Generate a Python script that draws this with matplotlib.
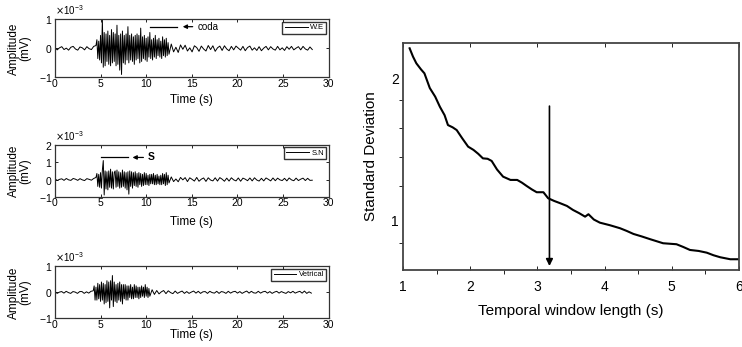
import numpy as np
import matplotlib
matplotlib.use("Agg")
import matplotlib.pyplot as plt
from matplotlib.ticker import ScalarFormatter

plt.rcParams['font.family'] = ['Liberation Sans', 'DejaVu Sans']

# seismograms, amplitudes in units of 1e-3 mV
# W.E component
we_pre = [0.03, -0.05, 0.02, 0.06, -0.04, 0.01, -0.06, 0.04, 0.07, -0.02, -0.06,
          0.05, 0.02, -0.05, 0.06, -0.01, -0.04, 0.07, 0.1]
we_burst = [0.3, -0.35, 0.25, -0.4, 0.45, -0.5, 1.0, -0.65, 0.55, -0.6,
            0.5, -0.45, 0.6, -0.55, 0.45, -0.6, 0.65, -0.5, 0.55, -0.45,
            0.5, -0.6, 0.8, -0.55, 0.45, -0.75, 0.5, -0.9, 0.6, -0.5,
            0.45, -0.55, 0.5, -0.4, 0.75, -0.5, 0.45, -0.4, 0.5, -0.45,
            0.4, -0.55, 0.45, -0.4, 0.5, -0.35, 0.45, -0.5, 0.7, -0.45,
            0.4, -0.35, 0.45, -0.4, 0.35, -0.45, 0.4, -0.3, 0.55, -0.35,
            0.3, -0.4, 0.35, -0.3, 0.45, -0.35, 0.3, -0.25, 0.35, -0.3,
            0.25, -0.35, 0.4, -0.25, 0.3, -0.3, 0.35, -0.25, 0.2, -0.2]
we_post = [0.15, -0.12, 0.04, -0.14, 0.12, -0.03, 0.11, -0.09, 0.02, -0.12, 0.09,
           0.03, -0.1, 0.08, -0.02, -0.09, 0.1, -0.04, 0.09, -0.1, 0.02, 0.08,
           -0.07, 0.09, -0.02, -0.08, 0.07, -0.05, 0.08, 0.01, -0.06, 0.07,
           -0.08, 0.03, 0.08, -0.06, 0.02, -0.07, 0.06, -0.08, 0.01, 0.07,
           -0.05, 0.06, -0.02, -0.06, 0.07, -0.05, 0.02, -0.07, 0.06, -0.03,
           0.07, -0.05, 0.01, 0.06, -0.05, 0.07, -0.02, -0.06, 0.05, -0.04]

# S.N component
sn_pre = [0.05, -0.06, 0.01, 0.04, -0.05, 0.06, -0.02, -0.05, 0.06, 0.02, -0.05,
          0.05, -0.02, -0.06, 0.05, 0.01, -0.04, 0.06, 0.12]
sn_burst = [0.35, -0.4, 0.3, -0.45, 0.4, -0.5, 0.55, 1.1, -0.9, 0.5,
            -0.55, 0.45, -0.6, 0.5, -0.45, 0.6, -0.5, 0.45, -0.55, 0.4,
            0.5, -0.45, 0.55, -0.4, 0.45, -0.5, 0.4, -0.45, 0.55, -0.4,
            0.45, -0.5, 0.4, -0.6, 0.45, -0.85, 0.5, -0.4, 0.45, -0.5,
            0.4, -0.35, 0.45, -0.4, 0.35, -0.45, 0.4, -0.3, 0.35, -0.4,
            0.3, -0.35, 0.4, -0.3, 0.35, -0.3, 0.25, -0.35, 0.3, -0.25,
            0.3, -0.25, 0.35, -0.3, 0.25, -0.3, 0.3, -0.25, 0.2, -0.3,
            0.25, -0.3, 0.35, -0.25, 0.3, -0.35, 0.4, -0.3, 0.25, -0.2]
sn_post = [0.15, -0.12, 0.03, -0.13, 0.12, -0.02, 0.11, -0.12, 0.1, 0.01, -0.09,
           0.12, -0.1, 0.02, 0.09, -0.11, 0.1, -0.03, -0.08, 0.1, -0.09, 0.11,
           0.02, -0.1, 0.08, -0.09, 0.1, -0.02, -0.08, 0.09, -0.1, 0.08, 0.02,
           -0.07, 0.09, -0.08, 0.1, -0.03, -0.09, 0.07, -0.08, 0.09, 0.01,
           -0.08, 0.09, -0.07, 0.08, -0.02, -0.06, 0.07, -0.08, 0.09, -0.02,
           -0.07, 0.08, -0.06, 0.02, 0.08, -0.06, 0.07, -0.05, -0.04]

# Vertical component
vt_pre = [0.03, -0.04, 0.01, 0.03, -0.03, 0.04, -0.01, -0.04, 0.03, 0.01,
          -0.04, 0.03, 0.03, -0.04, 0.02, -0.03, 0.04, 0.06]
vt_burst = [0.25, -0.3, 0.2, -0.3, 0.35, -0.25, 0.3, -0.35, 0.4, -0.3,
            0.35, -0.45, 0.3, -0.4, 0.45, -0.35, 0.4, -0.6, 0.45, -0.3,
            0.65, -0.55, 0.4, -0.35, 0.3, -0.4, 0.35, -0.3, 0.4, -0.35,
            0.3, -0.45, 0.3, -0.25, 0.3, -0.3, 0.25, -0.3, 0.25, -0.2,
            0.3, -0.25, 0.2, -0.25, 0.3, -0.2, 0.25, -0.2, 0.2, -0.25,
            0.2, -0.2, 0.25, -0.15, 0.2, -0.2, 0.3, -0.15, 0.2, -0.2,
            0.15, -0.15]
vt_post = [0.1, -0.08, 0.07, -0.06, 0.02, 0.07, -0.05, 0.06, -0.01, -0.05,
           0.05, -0.04, 0.01, 0.05, -0.04, 0.03, -0.04, 0.01, 0.05, -0.03,
           0.04, -0.04, 0.02, 0.03, -0.04, 0.04, -0.01, -0.03, 0.04, -0.04,
           0.03, 0.01, -0.04, 0.04, -0.03, 0.02, 0.04, -0.03, 0.03, -0.04,
           0.01, 0.05, -0.03, 0.04, -0.02, -0.03, 0.04, -0.03, 0.02, 0.04,
           -0.03, 0.03, -0.04, 0.01, 0.04, -0.03, 0.03, -0.01, -0.04, 0.03,
           -0.02, 0.04, -0.03, 0.01, 0.04, -0.03, 0.05, -0.04, 0.02, -0.03]

# standard deviation vs temporal window length
win_len = [1.10, 1.15, 1.20, 1.27, 1.32, 1.40, 1.48, 1.55, 1.62, 1.67, 1.74,
           1.80, 1.88, 1.97, 2.05, 2.12, 2.19, 2.26, 2.32, 2.40, 2.49, 2.60,
           2.70, 2.77, 2.84, 2.92, 2.99, 3.09, 3.16, 3.25, 3.34, 3.44, 3.53,
           3.62, 3.71, 3.76, 3.84, 3.93, 4.08, 4.23, 4.33, 4.43, 4.55, 4.68,
           4.87, 5.07, 5.17, 5.27, 5.40, 5.52, 5.62, 5.72, 5.87, 6.00]
std_dev = [2.208, 2.150, 2.103, 2.060, 2.033, 1.930, 1.870, 1.799, 1.740,
           1.671, 1.655, 1.636, 1.580, 1.520, 1.497, 1.470, 1.438, 1.435,
           1.420, 1.360, 1.310, 1.287, 1.287, 1.268, 1.245, 1.220, 1.201,
           1.201, 1.159, 1.140, 1.124, 1.105, 1.077, 1.055, 1.030, 1.047,
           1.010, 0.988, 0.970, 0.949, 0.930, 0.909, 0.892, 0.872, 0.844,
           0.837, 0.818, 0.797, 0.790, 0.778, 0.760, 0.746, 0.732, 0.732]
chosen_len = 3.18


def trace(pre, burst, post, t_on, t_off, t_end):
    t = np.concatenate([np.linspace(0, t_on - 0.1, len(pre)),
                        np.linspace(t_on, t_off, len(burst)),
                        np.linspace(t_off + 0.25, t_end, len(post))])
    return t, np.array(pre + burst + post) * 1e-3


fig = plt.figure(figsize=(7.42, 3.47), dpi=100)
ax1 = fig.add_axes([0.074, 0.777, 0.369, 0.167])
ax2 = fig.add_axes([0.074, 0.433, 0.369, 0.149])
ax3 = fig.add_axes([0.074, 0.083, 0.369, 0.149])
axr = fig.add_axes([0.543, 0.222, 0.453, 0.654])

panels = [
    (ax1, trace(we_pre, we_burst, we_post, 4.6, 12.5, 28.2), 'W.E', (-1, 1), -0.29),
    (ax2, trace(sn_pre, sn_burst, sn_post, 4.6, 12.5, 28.2), 'S.N', (-1, 2), -0.37),
    (ax3, trace(vt_pre, vt_burst, vt_post, 4.3, 10.4, 28.1), 'Vetrical', (-1, 1), -0.21),
]

for ax, (t, a), name, ylim, xl in panels:
    ax.plot(t, a, color='k', lw=0.7, label=name)
    ax.set_xlim(0, 30)
    ax.set_ylim(ylim[0] * 1e-3, ylim[1] * 1e-3)
    ax.set_xticks([0, 5, 10, 15, 20, 25, 30])
    ax.set_yticks(np.arange(ylim[0], ylim[1] + 1) * 1e-3)
    fmt = ScalarFormatter(useMathText=True)
    fmt.set_powerlimits((0, 0))
    ax.yaxis.set_major_formatter(fmt)
    ax.yaxis.get_offset_text().set_fontsize(7)
    ax.tick_params(direction='in', top=True, right=True, length=2.5,
                   labelsize=7.5, width=0.6)
    ax.tick_params(axis='x', pad=1)
    ax.tick_params(axis='y', pad=2)
    for s in ax.spines.values():
        s.set_linewidth(0.9)
        s.set_color('#333333')
    ax.set_xlabel('Time (s)', fontsize=8.5)
    ax.xaxis.set_label_coords(0.5, xl)
    ax.set_ylabel('Amplitude\n(mV)', fontsize=8.5, linespacing=1.0)
    ax.yaxis.set_label_coords(-0.085, 0.5)
    ax.legend(loc='upper right', fontsize=5.5, frameon=True, fancybox=False,
              edgecolor='k', handlelength=3, borderpad=0.3, borderaxespad=0.3,
              handletextpad=0.3)

ax1.plot([10.4, 13.4], [0.75e-3, 0.75e-3], color='k', lw=0.9)
ax1.annotate('', xy=(13.7, 0.75e-3), xytext=(15.4, 0.75e-3),
             arrowprops=dict(arrowstyle='-|>', color='k', lw=0.9, mutation_scale=6))
ax1.text(15.6, 0.75e-3, 'coda', fontsize=7, va='center', ha='left')

ax2.plot([5.1, 8.0], [1.28e-3, 1.28e-3], color='k', lw=0.9)
ax2.annotate('', xy=(8.2, 1.28e-3), xytext=(10.0, 1.28e-3),
             arrowprops=dict(arrowstyle='-|>', color='k', lw=0.9, mutation_scale=6))
ax2.text(10.2, 1.28e-3, 'S', fontsize=7.5, fontweight='bold', va='center', ha='left')

# right panel
axr.plot(win_len, std_dev, color='k', lw=1.5)
axr.set_xlim(1, 6)
axr.set_ylim(0.657, 2.245)
axr.annotate('', xy=(chosen_len, 0.665), xytext=(chosen_len, 1.823),
             arrowprops=dict(arrowstyle='-|>', color='k', lw=1.2, mutation_scale=10))
axr.set_xticks([1, 2, 3, 4, 5, 6])
axr.set_xticks([1.5, 2.5, 3.5, 4.5, 5.5], minor=True)
axr.set_yticks([1, 2])
axr.set_yticks([0.846, 1.245, 1.448, 1.65, 1.846], minor=True)
axr.tick_params(direction='in', top=True, right=True, labelsize=10, width=0.6)
axr.tick_params(axis='x', which='both', length=3, pad=7)
axr.tick_params(axis='y', which='major', length=0, pad=3)
axr.tick_params(axis='y', which='minor', length=3)
for s in axr.spines.values():
    s.set_linewidth(1.3)
    s.set_color('#444444')
axr.set_xlabel('Temporal window length (s)', fontsize=11)
axr.xaxis.set_label_coords(0.5, -0.15)
axr.set_ylabel('Standard Deviation', fontsize=11)
axr.yaxis.set_label_coords(-0.075, 0.5)

fig.savefig('out.png', dpi=100)
